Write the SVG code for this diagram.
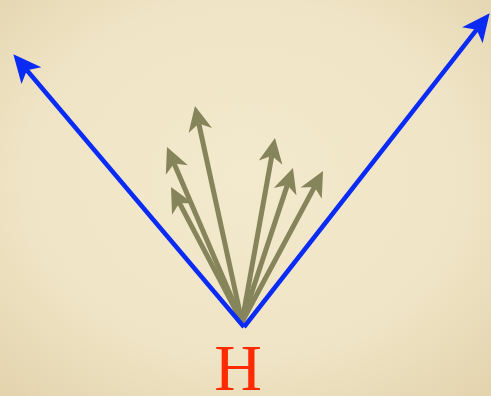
<svg xmlns="http://www.w3.org/2000/svg" width="491" height="396" viewBox="0 0 491 396">
<defs>
<radialGradient id="bg" cx="50%" cy="45%" r="75%">
<stop offset="0" stop-color="#f3e9cd"/>
<stop offset="0.6" stop-color="#efe4c5"/>
<stop offset="1" stop-color="#e2d3ac"/>
</radialGradient>
<marker id="bh" markerUnits="userSpaceOnUse" markerWidth="60" markerHeight="60" viewBox="-30 -30 60 60" refX="0" refY="0" orient="auto" overflow="visible">
<path d="M21,0 L-7,-13 L0,0 L-7,13 Z" fill="#0a2af5"/>
</marker>
<marker id="oh" markerUnits="userSpaceOnUse" markerWidth="60" markerHeight="60" viewBox="-30 -30 60 60" refX="0" refY="0" orient="auto" overflow="visible">
<path d="M18,0 L-7,-12 L0,0 L-7,12 Z" fill="#86845a"/>
</marker>
<style>
.b{stroke:#0a2af5;stroke-width:4.5;fill:none;marker-end:url(#bh)}
.o{stroke:#86845a;stroke-width:5;fill:none;marker-end:url(#oh)}
</style>
</defs>
<rect width="491" height="396" fill="url(#bg)"/>
<g id="connectors">
<line class="o" x1="242" y1="322" x2="198.8" y2="123.6"/>
<line class="o" x1="242" y1="322" x2="174.1" y2="163.5"/>
<line class="o" x1="242" y1="322" x2="179.4" y2="202.9"/>
<line class="o" x1="242" y1="322" x2="271.8" y2="155.7"/>
<line class="o" x1="242" y1="322" x2="287.3" y2="185.1"/>
<line class="o" x1="242" y1="322" x2="314.5" y2="186.9"/>
<line class="b" x1="244" y1="327" x2="26.9" y2="70.3"/>
<line class="b" x1="244" y1="327" x2="476.7" y2="29.7"/>
</g>
<g id="H">
<text x="238" y="390" text-anchor="middle" font-family="Liberation Serif, serif" font-size="66" fill="#ff2a00">H</text>
</g>
</svg>
